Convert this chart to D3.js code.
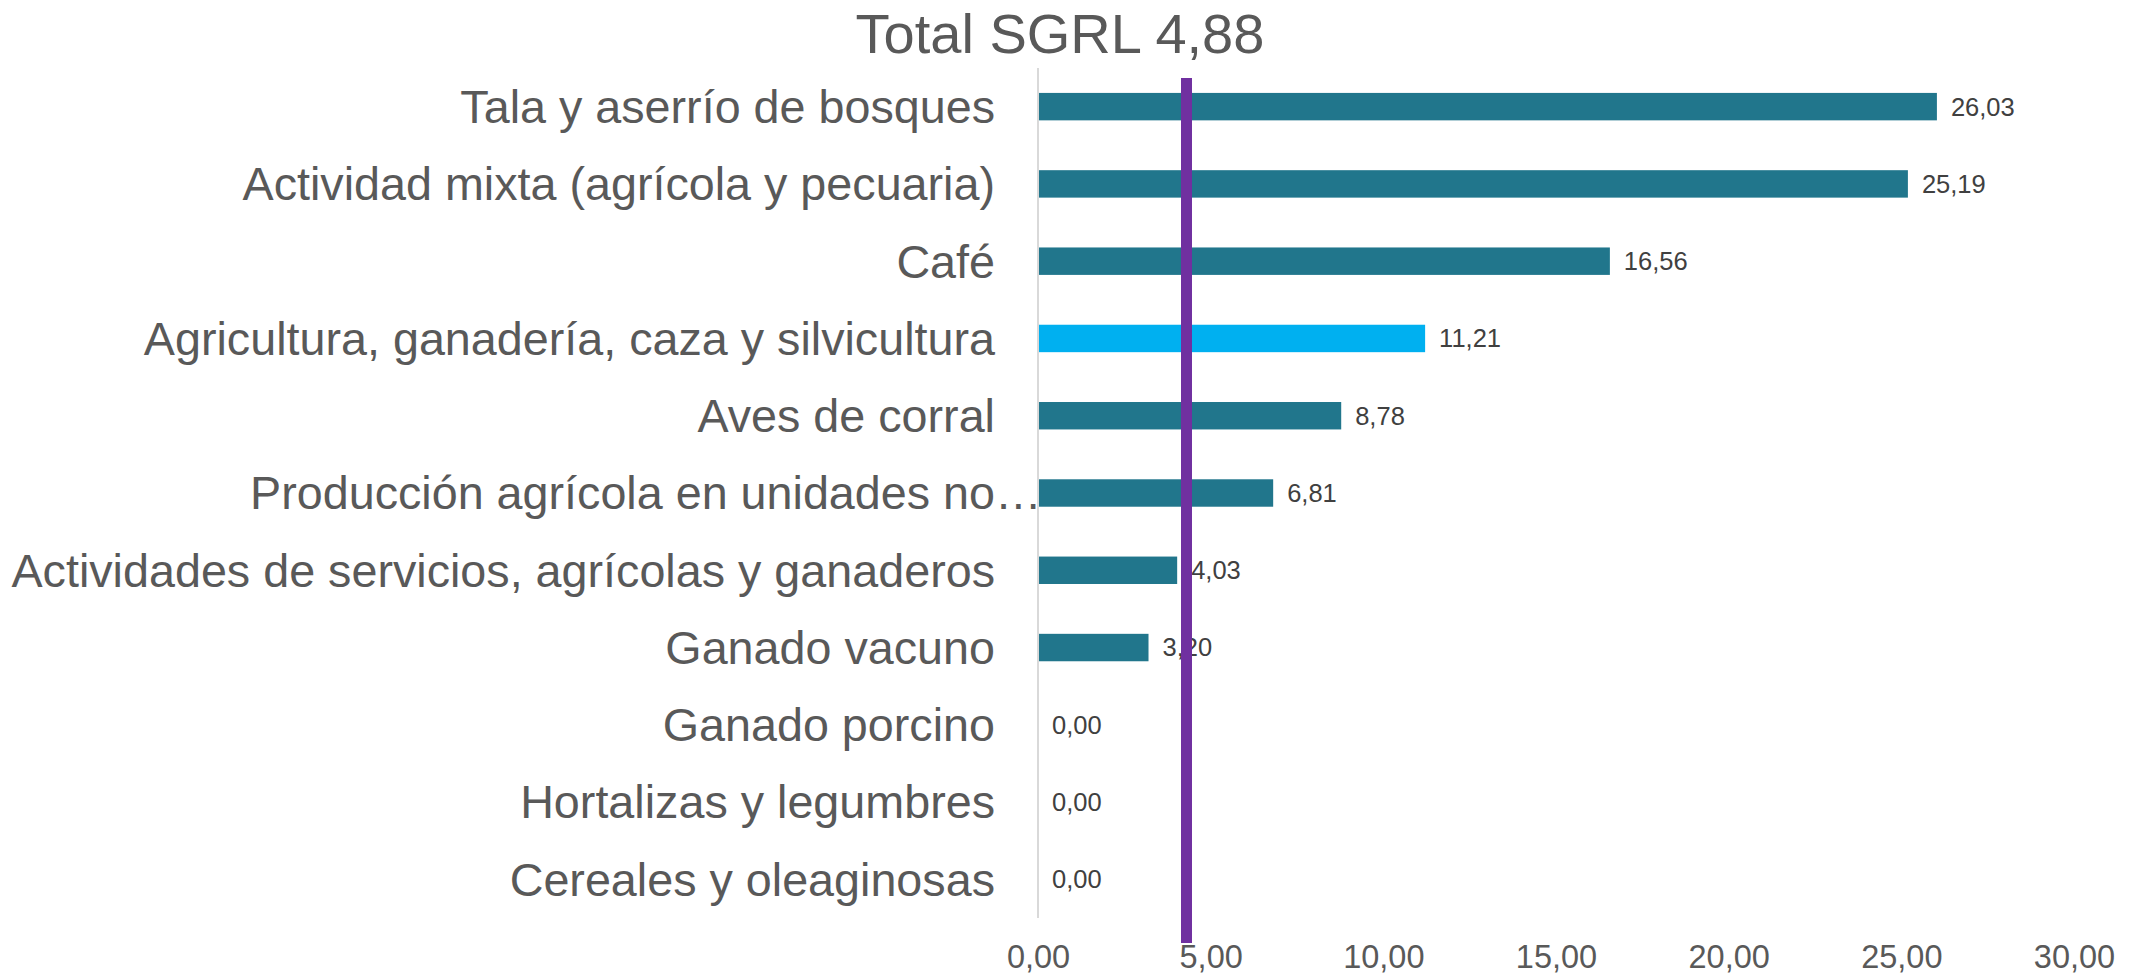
<!DOCTYPE html>
<html>
<head>
<meta charset="utf-8">
<script src="https://cdn.jsdelivr.net/npm/d3@7"></script>
<style>
  body { margin: 0; background: #fff; }
  text { font-family: "Liberation Sans", Arial, sans-serif; }
</style>
</head>
<body>
<svg></svg>
<script>
const categories = [
    "Tala y aserrío de bosques",
    "Actividad mixta (agrícola y pecuaria)",
    "Café",
    "Agricultura, ganadería, caza y silvicultura",
    "Aves de corral",
    "Producción agrícola en unidades no…",
    "Actividades de servicios, agrícolas y ganaderos",
    "Ganado vacuno",
    "Ganado porcino",
    "Hortalizas y legumbres",
    "Cereales y oleaginosas"
];
const values = [26.03, 25.19, 16.56, 11.21, 8.78, 6.81, 4.03, 3.20, 0, 0, 0];
const highlighted = ["Agricultura, ganadería, caza y silvicultura"];
const xTicks = [0, 5, 10, 15, 20, 25, 30];
const titleText = "Total SGRL 4,88";
const markerValue = 4.3; // where the purple line sits in the picture

const data = categories.map((c, i) => ({ category: c, value: values[i] }));

const svg = d3.select('svg');
svg.attr("width", 2140).attr("height", 976);

const fmt = v => d3.format(".2f")(v).replace(".", ",");

const render = data => {
    const margin = { top: 68, right: 66, bottom: 58, left: 1038 };
    const width = +svg.attr("width");
    const height = +svg.attr("height");
    const innerWidth = width - margin.left - margin.right;
    const innerHeight = height - margin.top - margin.bottom;

    const g = svg.append('g').attr("transform", `translate(${margin.left},${margin.top})`);

    const xScale = d3.scaleLinear().domain([0, 30]).range([0, innerWidth]);
    const yScale = d3.scaleBand().domain(data.map(d => d.category))
        .range([0, innerHeight]).paddingInner(0.645).paddingOuter(0.3225);

    // bars
    g.selectAll('rect.bar').data(data).enter().append('rect')
        .attr("class", "bar")
        .attr("x", 0)
        .attr("y", d => yScale(d.category))
        .attr("width", d => xScale(d.value))
        .attr("height", yScale.bandwidth())
        .attr("fill", d => highlighted.includes(d.category) ? "#00B0F0" : "#21768C");

    // category axis line
    g.append('line')
        .attr("x1", 0).attr("x2", 0)
        .attr("y1", 0).attr("y2", innerHeight)
        .attr("stroke", "#D9D9D9").attr("stroke-width", 2);

    // category labels
    const labels = g.selectAll('text.cat').data(data).enter().append('text')
        .attr("class", "cat")
        .attr("x", -43)
        .attr("y", d => yScale(d.category) + yScale.bandwidth() / 2)
        .attr("dy", "0.35em")
        .attr("text-anchor", "end")
        .attr("font-size", 46.7)
        .attr("fill", "#595959")
        .text(d => d.category);
    // truncated label: ellipsis hangs past the label column
    labels.filter(d => d.category.endsWith("…")).each(function () {
        const t = d3.select(this);
        const full = this.getComputedTextLength();
        t.text(t.text().slice(0, -1));
        const cut = this.getComputedTextLength();
        t.text(t.text() + "…").attr("x", -43 + (full - cut));
    });

    // value labels
    g.selectAll('text.val').data(data).enter().append('text')
        .attr("class", "val")
        .attr("x", d => xScale(d.value) + 14)
        .attr("y", d => yScale(d.category) + yScale.bandwidth() / 2)
        .attr("dy", "0.35em")
        .attr("font-size", 25.5)
        .attr("fill", "#404040")
        .text(d => fmt(d.value));

    // x axis
    const xAxis = d3.axisBottom(xScale).tickValues(xTicks).tickFormat(fmt).tickSize(0).tickPadding(27);
    const ax = g.append('g').call(xAxis).attr("transform", `translate(0,${innerHeight})`);
    ax.select(".domain").remove();
    ax.selectAll("text").attr("font-size", 32.5).attr("fill", "#595959")
        .attr("font-family", '"Liberation Sans", Arial, sans-serif');

    // purple marker line
    g.append('line')
        .attr("x1", xScale(markerValue)).attr("x2", xScale(markerValue))
        .attr("y1", 10).attr("y2", innerHeight + 25)
        .attr("stroke", "#7030A0").attr("stroke-width", 11);

    // title
    svg.append('text')
        .attr("x", 1060).attr("y", 53)
        .attr("text-anchor", "middle")
        .attr("font-size", 56)
        .attr("fill", "#595959")
        .text(titleText);
};

render(data);
</script>
</body>
</html>
